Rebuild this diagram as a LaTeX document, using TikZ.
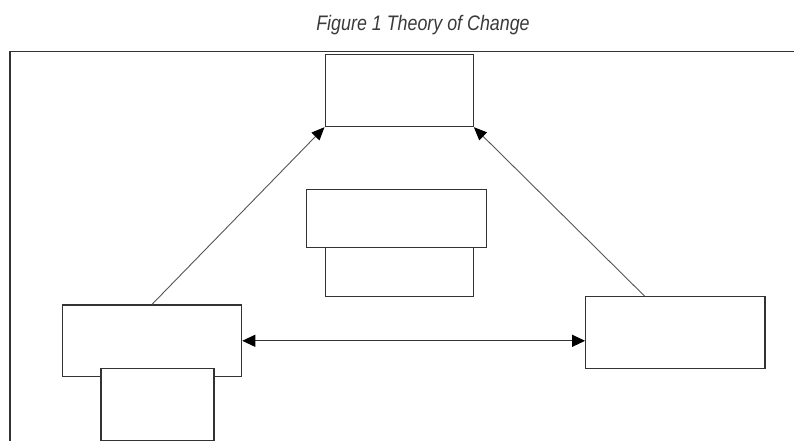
\documentclass[tikz,border=0pt]{standalone}
\usepackage{fontspec}
\usetikzlibrary{arrows.meta,calc}
\newfontfamily\captionfont{Liberation Sans}[FakeStretch=0.85]
\definecolor{boxline}{HTML}{333333}
\definecolor{arrowline}{HTML}{555555}
\definecolor{titlegray}{HTML}{3A3A3A}
\tikzset{
  tocbox/.style={draw=boxline, fill=white, line width=1.1pt, inner sep=0pt},
  tocarrow/.style={draw=arrowline, line width=0.9pt, -{Triangle[length=13pt,width=11pt,color=black,fill=black]}},
}
\begin{document}
\begin{tikzpicture}[x=1pt,y=-1pt]
\useasboundingbox (0,0) rectangle (794,441);
\node[anchor=base, text=titlegray] (title) at (423,30.3) {\captionfont\itshape\fontsize{21}{24}\selectfont Figure 1 Theory of Change};
% frame
\draw[boxline, line width=1.1pt] (10,445) -- (10,51.7) -- (800,51.7);
% boxes
\node[tocbox, minimum width=148.3pt, minimum height=71.7pt] (topbox) at (399.2,90.8) {};
\node[tocbox, minimum width=180pt, minimum height=58.3pt] (midupper) at (396.7,218.2) {};
\node[tocbox, minimum width=148.3pt, minimum height=49.4pt] (midlower) at (399.2,272) {};
\node[tocbox, minimum width=179.4pt, minimum height=71.7pt] (leftbox) at (152,340.8) {};
\node[tocbox, minimum width=113pt, minimum height=71.7pt] (leftsub) at (157.5,404.2) {};
\node[tocbox, minimum width=179.3pt, minimum height=71.6pt] (rightbox) at (675.3,332.5) {};
% arrows
\coordinate (rightstart) at ($(rightbox.north west)!0.33!(rightbox.north east)$);
\draw[tocarrow] (leftbox.north) -- (topbox.south west);
\draw[tocarrow] (rightstart) -- (topbox.south east);
\draw[boxline, line width=1.1pt, {Triangle[length=13pt,width=12pt,color=black,fill=black]}-{Triangle[length=13pt,width=12pt,color=black,fill=black]}] (leftbox.east) -- (leftbox.east -| rightbox.west);
\end{tikzpicture}
\end{document}
